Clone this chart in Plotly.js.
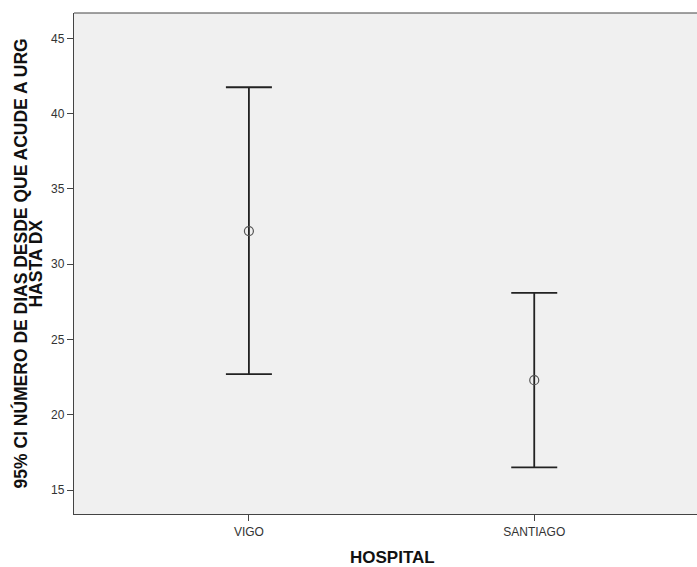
<!DOCTYPE html>
<html>
<head>
<meta charset="utf-8">
<script src="https://cdn.plot.ly/plotly-3.0.1.min.js"></script>
<style>
html,body{margin:0;padding:0;overflow:hidden;background:#fff;}
#chart{width:711px;height:567px;}
</style>
</head>
<body>
<div id="chart"></div>
<script>
const hospitals = ['VIGO', 'SANTIAGO'];
const means = [32.2, 22.3];
const upperCI = [41.75, 28.1];
const lowerCI = [22.7, 16.5];
const yTickValues = [15, 20, 25, 30, 35, 40, 45];
const yTitleLines = ['95% CI NÚMERO DE DIAS DESDE QUE ACUDE A URG', 'HASTA DX'];
const xTitle = 'HOSPITAL';

const trace = {
  type: 'scatter',
  mode: 'markers',
  x: hospitals,
  y: means,
  marker: {symbol: 'circle-open', size: 9, color: '#555', line: {width: 1.2, color: '#555'}},
  error_y: {
    type: 'data',
    symmetric: false,
    array: upperCI.map((u, i) => u - means[i]),
    arrayminus: lowerCI.map((l, i) => means[i] - l),
    color: '#222',
    thickness: 1.8,
    width: 23
  },
  hoverinfo: 'skip'
};

const tickFont = {family: 'Liberation Sans, Arial, sans-serif', size: 12, color: '#333'};
const yTitleFont = {family: 'Liberation Sans, Arial, sans-serif', size: 17.5, color: '#111', weight: 'bold'};
const xTitleFont = {family: 'Liberation Sans, Arial, sans-serif', size: 17, color: '#111', weight: 'bold'};

const layout = {
  width: 711,
  height: 567,
  margin: {l: 74, r: 1, t: 13, b: 53},
  paper_bgcolor: '#ffffff',
  plot_bgcolor: '#f0f0f0',
  showlegend: false,
  xaxis: {
    type: 'category',
    range: [-0.613, 1.616],
    showgrid: false,
    zeroline: false,
    showline: true,
    linecolor: '#444',
    linewidth: 1.2,
    ticks: 'outside',
    ticklen: 6,
    tickcolor: '#444',
    tickfont: tickFont,
    fixedrange: true
  },
  yaxis: {
    range: [13.41, 46.68],
    tickvals: yTickValues,
    showgrid: false,
    zeroline: false,
    showline: true,
    linecolor: '#444',
    linewidth: 1.2,
    ticks: 'outside',
    ticklen: 6,
    tickcolor: '#444',
    tickfont: tickFont,
    fixedrange: true
  },
  shapes: [
    {type: 'line', xref: 'paper', yref: 'paper', x0: 0, x1: 1, y0: 1, y1: 1, line: {color: '#444', width: 1.2}}
  ],
  annotations: [
    {xref: 'paper', yref: 'paper', x: -0.0849, y: 0.5, text: yTitleLines[0], textangle: -90, showarrow: false, xanchor: 'center', yanchor: 'middle', borderpad: 0, font: yTitleFont},
    {xref: 'paper', yref: 'paper', x: -0.0613, y: 0.5, text: yTitleLines[1], textangle: -90, showarrow: false, xanchor: 'center', yanchor: 'middle', borderpad: 0, font: yTitleFont},
    {xref: 'paper', yref: 'paper', x: 0.5, y: -0.086, text: xTitle, showarrow: false, xanchor: 'center', yanchor: 'middle', borderpad: 0, font: xTitleFont}
  ]
};

Plotly.newPlot('chart', [trace], layout, {displayModeBar: false, staticPlot: true});
</script>
</body>
</html>
